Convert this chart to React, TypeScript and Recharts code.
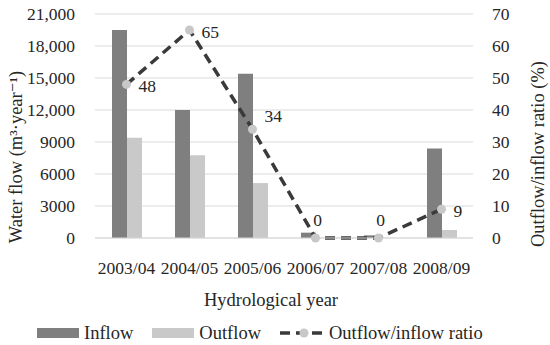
import React from 'react';
import { ComposedChart, Bar, Line, XAxis, YAxis, CartesianGrid, Legend, LabelList } from 'recharts';

const years = ['2003/04', '2004/05', '2005/06', '2006/07', '2007/08', '2008/09'];
const inflow = [19500, 12000, 15400, 500, 250, 8400];
const outflow = [9400, 7750, 5150, 0, 0, 750];
const ratio = [48, 65, 34, 0, 0, 9];
const leftTicks = [0, 3000, 6000, 9000, 12000, 15000, 18000, 21000];
const rightTicks = [0, 10, 20, 30, 40, 50, 60, 70];

const data = years.map((y, i) => ({ year: y, inflow: inflow[i], outflow: outflow[i], ratio: ratio[i] }));

const FONT = "'Liberation Serif', 'DejaVu Serif', serif";
const TXT = '#262626';
const INFLOW = '#7f7f7f';
const OUTFLOW = '#c9c9c9';
const LINE = '#3a3a3a';
const DOT = '#c8c8c8';
const TICK_FS = 17.5;
const TITLE_FS = 18.5;

const fmtLeft = (v: number) => {
  const s = String(v);
  return v >= 10000 ? s.slice(0, s.length - 3) + ',' + s.slice(-3) : s;
};

const RatioLabel = (props: any) => {
  const { x, y, value, index } = props;
  if (value === 0) {
    return (
      <text x={x + 2} y={y - 18} textAnchor="middle" dominantBaseline="central" fontSize={TICK_FS} fontFamily={FONT} fill={TXT}>
        {value}
      </text>
    );
  }
  const prev = ratio[index - 1];
  const next = ratio[index + 1];
  const throughLine = prev !== undefined && next !== undefined && (prev - value) * (value - next) > 0;
  return (
    <text x={x + 12} y={throughLine ? y - 13 : y + 2} textAnchor="start" dominantBaseline="central" fontSize={TICK_FS} fontFamily={FONT} fill={TXT}>
      {value}
    </text>
  );
};

const LegendContent = (props: any) => {
  const payload = props.payload || [];
  return (
    <div style={{ display: 'flex', alignItems: 'center', fontFamily: FONT, fontSize: TITLE_FS, color: TXT, paddingLeft: 37, lineHeight: '22px' }}>
      {payload.map((p: any, i: number) => (
        <div key={i} style={{ display: 'flex', alignItems: 'center', marginRight: 19 }}>
          {p.type === 'line' ? (
            <svg width={42} height={12} style={{ marginRight: 7 }}>
              <line x1={0} y1={6} x2={42} y2={6} stroke={LINE} strokeWidth={3.5} strokeDasharray="10 6" />
              <circle cx={24} cy={6} r={4.5} fill={DOT} />
            </svg>
          ) : (
            <svg width={42} height={10} style={{ marginRight: 5 }}>
              <rect x={0} y={0} width={42} height={10} fill={p.color} />
            </svg>
          )}
          <span>{p.value}</span>
        </div>
      ))}
    </div>
  );
};

const XTitle = (p: any) => {
  const vb = p.viewBox || { y: 238 };
  return (
    <text x={271} y={vb.y + 62} textAnchor="middle" dominantBaseline="central" fontSize={TITLE_FS} fontFamily={FONT} fill={TXT}>
      Hydrological year
    </text>
  );
};

export default function App() {
  return (
    <div style={{ position: 'absolute', left: 0, top: 0, background: '#fff' }}>
      <ComposedChart
        width={550}
        height={345}
        data={data}
        margin={{ top: 14, right: 0, bottom: 37, left: 0 }}
        barSize={15}
        barGap={0}
      >
        <CartesianGrid vertical={false} stroke="#d9d9d9" strokeWidth={1.2} />
        <XAxis
          dataKey="year"
          axisLine={{ stroke: '#d9d9d9' }}
          tickLine={false}
          tickSize={0}
          tickMargin={24}
          height={70}
          interval={0}
          tick={{ fontSize: TICK_FS, fontFamily: FONT, fill: TXT }}
          label={<XTitle />}
        />
        <YAxis
          orientation="left"
          width={95}
          domain={[0, 21000]}
          ticks={leftTicks}
          tickFormatter={fmtLeft}
          axisLine={false}
          tickLine={false}
          tickSize={0}
          tickMargin={20}
          tick={{ fontSize: TICK_FS, fontFamily: FONT, fill: TXT }}
        />
        <YAxis
          yAxisId="right"
          orientation="right"
          width={77}
          domain={[0, 70]}
          ticks={rightTicks}
          axisLine={false}
          tickLine={false}
          tickSize={0}
          tickMargin={19}
          tick={{ fontSize: TICK_FS, fontFamily: FONT, fill: TXT }}
        />
        <Bar dataKey="inflow" name="Inflow" fill={INFLOW} isAnimationActive={false} />
        <Bar dataKey="outflow" name="Outflow" fill={OUTFLOW} isAnimationActive={false} />
        <Line
          yAxisId="right"
          dataKey="ratio"
          name="Outflow/inflow ratio"
          stroke={LINE}
          strokeWidth={3.5}
          strokeDasharray="10 6"
          dot={{ r: 4.5, fill: DOT, stroke: 'none' }}
          activeDot={false}
          isAnimationActive={false}
          legendType="line"
        >
          <LabelList dataKey="ratio" content={RatioLabel} />
        </Line>
        <Legend
          layout="horizontal"
          verticalAlign="middle"
          align="center"
          content={LegendContent}
          wrapperStyle={{ top: 322, left: 0, width: 550 }}
        />
        <text x={16} y={157} transform="rotate(-90 16 157)" textAnchor="middle" dominantBaseline="central" fontSize={TITLE_FS} fontFamily={FONT} fill={TXT}>
          Water flow (m³·year⁻¹)
        </text>
        <text x={538} y={154} transform="rotate(-90 538 154)" textAnchor="middle" dominantBaseline="central" fontSize={TITLE_FS} fontFamily={FONT} fill={TXT}>
          Outflow/inflow ratio (%)
        </text>
      </ComposedChart>
    </div>
  );
}
